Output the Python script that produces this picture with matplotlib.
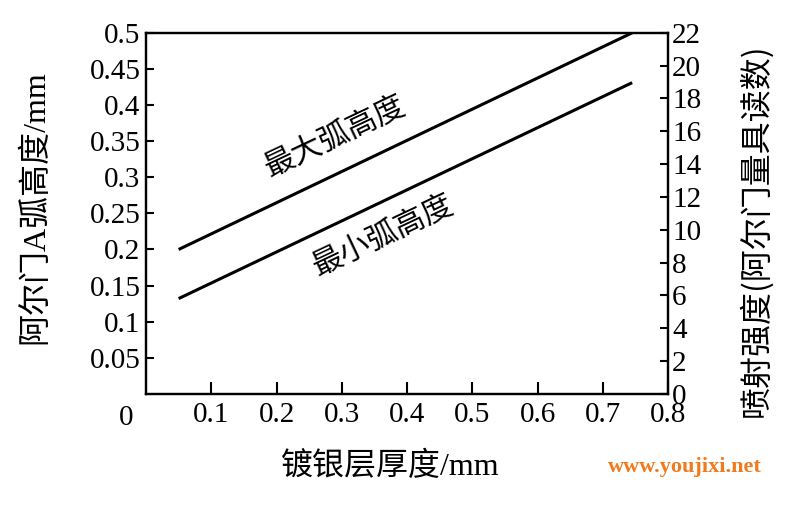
import matplotlib
matplotlib.use("Agg")
import numpy as np
import matplotlib.pyplot as plt

# thickness of silver plating (mm) vs Almen arc height (mm)
thickness = [0.05, 0.745]
arc_max = [0.20, 0.50]
arc_min = [0.132, 0.431]

x_ticks = [0.1, 0.2, 0.3, 0.4, 0.5, 0.6, 0.7, 0.8]
y_ticks = [0.05, 0.1, 0.15, 0.2, 0.25, 0.3, 0.35, 0.4, 0.45, 0.5]
right_ticks = list(range(0, 23, 2))

serif = ["Liberation Serif", "Noto Sans CJK SC"]
cjk = ["Noto Sans CJK SC", "Liberation Serif"]
plt.rcParams["font.family"] = serif

fig = plt.figure(figsize=(7.85, 5.05), dpi=100)
ax = fig.add_axes([0.186, 0.220, 0.665, 0.715])

ax.plot(thickness, arc_max, color="black", lw=2.2, solid_capstyle="butt")
ax.plot(thickness, arc_min, color="black", lw=2.2, solid_capstyle="butt")

ax.set_xlim(0, 0.8)
ax.set_ylim(0, 0.5)
ax.set_xticks(x_ticks)
ax.set_xticklabels([f"{v:g}" for v in x_ticks])
ax.set_yticks(y_ticks)
ax.set_yticklabels([f"{v:g}" for v in y_ticks])
ax.tick_params(axis="x", direction="in", length=9, width=1.5, labelsize=21, pad=6)
ax.tick_params(axis="y", direction="in", length=6, width=1.5, labelsize=21, pad=4)
for s in ax.spines.values():
    s.set_linewidth(1.6)

ax.text(-0.03, -0.016, "0", ha="center", va="top", fontsize=21)

ax2 = ax.twinx()
ax2.set_ylim(0, 22)
ax2.set_yticks(right_ticks)
ax2.tick_params(axis="y", direction="in", length=6, width=1.5, labelsize=21, pad=3)
for s in ax2.spines.values():
    s.set_linewidth(1.6)

ax.text(0.29, 0.356, "最大弧高度", rotation=25.3, rotation_mode="anchor",
        ha="center", va="center", fontsize=22, family=cjk)
ax.text(0.363, 0.22, "最小弧高度", rotation=25.3, rotation_mode="anchor",
        ha="center", va="center", fontsize=22, family=cjk)

fig.text(0.045, 0.59, "阿尔门A弧高度/mm", rotation=90, ha="center", va="center",
         fontsize=23)
fig.text(0.962, 0.545, "喷射强度(阿尔门量具读数)", rotation=90, ha="center",
         va="center", fontsize=23, family=cjk)
fig.text(0.497, 0.075, "镀银层厚度/mm", ha="center", va="center", fontsize=23)
fig.text(0.873, 0.075, "www.youjixi.net", ha="center", va="center", fontsize=16,
         fontweight="bold", color="#f07a1e")

fig.savefig("out.png", dpi=100)
